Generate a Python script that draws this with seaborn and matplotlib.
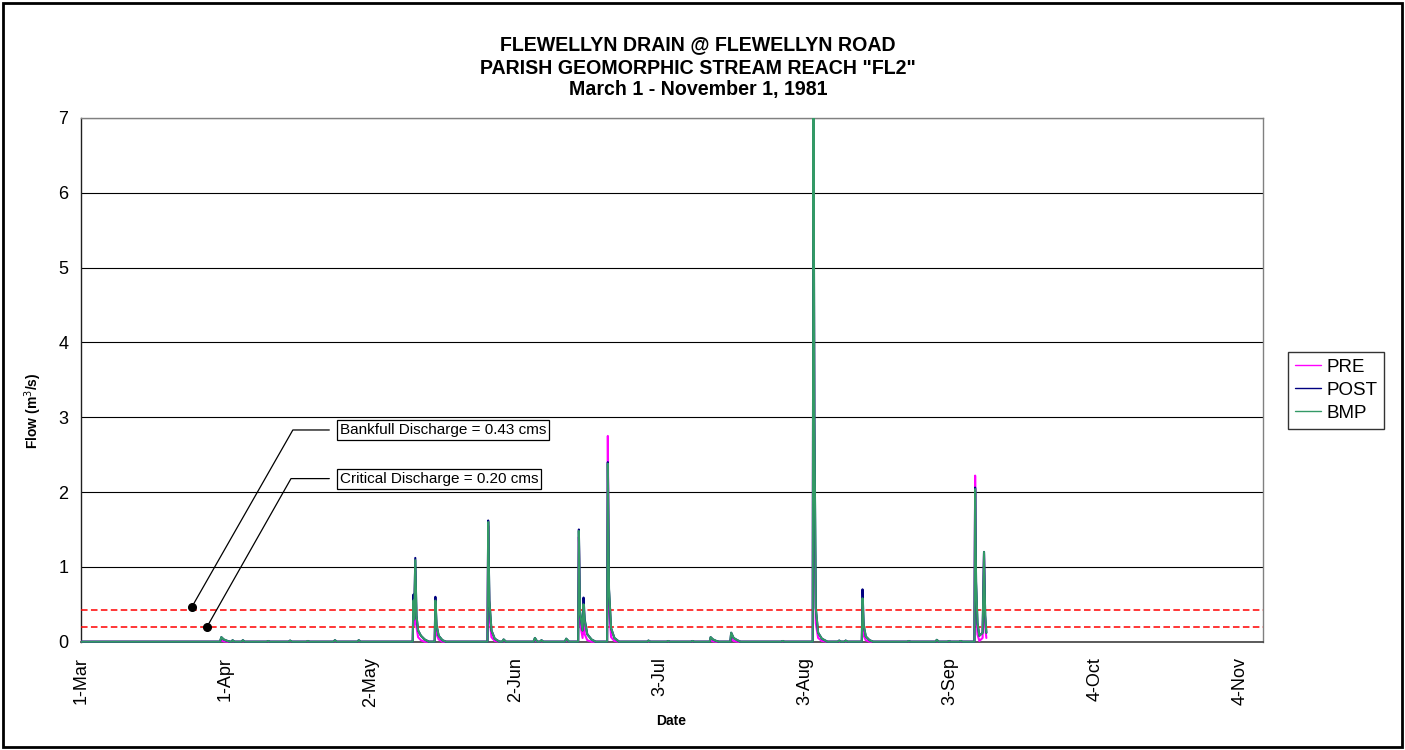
import numpy as np
import pandas as pd
import matplotlib
matplotlib.use("Agg")
import matplotlib.pyplot as plt
from matplotlib.patches import Rectangle
import seaborn as sns

# ---------------------------------------------------------------------------
# Simulated flow (m3/s) at breakpoints, days after 1 March 1981
# ---------------------------------------------------------------------------
day = [
    0.0, 29.8, 30.1, 30.6, 31.4, 32.0,
    32.3, 32.5, 32.9, 34.4, 34.7, 35.1, 39.8, 40.1, 40.5,
    44.5, 44.8, 45.2, 48.3, 48.6, 49.0, 54.1, 54.4, 54.8, 59.2, 59.5, 59.9,
    71.05, 71.2, 71.35, 71.6, 71.85, 72.2, 72.8, 73.6, 74.5,
    75.75, 75.9, 76.15, 76.6, 77.4, 78.2,
    87.05, 87.2, 87.45, 87.9, 88.6, 89.6,
    90.2, 90.5, 91.0, 96.9, 97.2, 97.7, 98.3, 98.6, 99.0, 103.6, 103.9, 104.5,
    106.45, 106.6, 106.85, 107.4, 107.6, 107.85, 108.4, 109.3, 110.2,
    112.65, 112.8, 113.05, 113.5, 114.2, 115.2,
    121.2, 121.5, 121.9, 125.4, 125.7, 126.1, 130.6, 130.9, 131.3,
    134.6, 134.8, 135.3, 136.0, 136.6, 139.0, 139.2, 139.7, 140.5, 141.2, 149.9, 150.2, 150.6,
    156.65, 156.8, 157.0, 157.3, 157.8, 158.6, 159.8,
    162.0, 162.3, 162.7, 163.4, 163.7, 164.1,
    167.15, 167.3, 167.55, 168.0, 168.8, 169.6,
    176.9, 177.2, 177.6, 182.9, 183.2, 183.6, 185.5, 185.8, 186.2, 188.0, 188.3, 188.7,
    191.25, 191.4, 191.6, 191.9, 192.3, 193.0, 193.3, 193.55, 193.8,
]

pre = [
    0, 0, 0.02, 0.005, 0, 0,
    0, 0.01, 0, 0, 0.01, 0, 0, 0.005, 0,
    0, 0.01, 0, 0, 0.005, 0, 0, 0.01, 0, 0, 0.01, 0,
    0, 0.45, 0.22, 0.95, 0.20, 0.06, 0.02, 0, 0,
    0, 0.45, 0.10, 0.03, 0, 0,
    0, 1.55, 0.35, 0.06, 0.01, 0,
    0, 0.01, 0, 0, 0.02, 0, 0, 0.01, 0, 0, 0.02, 0,
    0, 1.40, 0.25, 0.05, 0.40, 0.10, 0.02, 0, 0,
    0, 2.75, 0.45, 0.06, 0.01, 0,
    0, 0.005, 0, 0, 0.005, 0, 0, 0.005, 0,
    0, 0.02, 0.005, 0, 0, 0, 0.05, 0.01, 0, 0, 0, 0.005, 0,
    0, 7.60, 2.00, 0.25, 0.05, 0.01, 0,
    0, 0.005, 0, 0, 0.005, 0,
    0, 0.45, 0.08, 0.02, 0, 0,
    0, 0.005, 0, 0, 0.01, 0, 0, 0.005, 0, 0, 0.005, 0,
    0, 2.22, 0.55, 0.10, 0.01, 0.05, 1.18, 0.20, 0.05,
]

post = [
    0, 0, 0.06, 0.03, 0.01, 0,
    0, 0.02, 0, 0, 0.02, 0, 0, 0.01, 0,
    0, 0.015, 0, 0, 0.01, 0, 0, 0.02, 0, 0, 0.02, 0,
    0, 0.63, 0.30, 1.12, 0.35, 0.15, 0.08, 0.03, 0,
    0, 0.60, 0.22, 0.08, 0.02, 0,
    0, 1.62, 0.55, 0.15, 0.04, 0,
    0, 0.03, 0, 0, 0.05, 0, 0, 0.02, 0, 0, 0.04, 0,
    0, 1.50, 0.40, 0.15, 0.59, 0.30, 0.10, 0.03, 0,
    0, 2.40, 0.70, 0.18, 0.05, 0,
    0, 0.015, 0, 0, 0.01, 0, 0, 0.01, 0,
    0, 0.06, 0.03, 0.01, 0, 0, 0.12, 0.05, 0.02, 0, 0, 0.01, 0,
    0, 7.60, 3.00, 0.45, 0.12, 0.04, 0,
    0, 0.015, 0, 0, 0.015, 0,
    0, 0.70, 0.22, 0.07, 0.02, 0,
    0, 0.01, 0, 0, 0.025, 0, 0, 0.01, 0, 0, 0.01, 0,
    0, 2.06, 0.80, 0.25, 0.08, 0.12, 1.20, 0.35, 0.12,
]

bmp = [
    0, 0, 0.06, 0.03, 0.01, 0,
    0, 0.02, 0, 0, 0.02, 0, 0, 0.01, 0,
    0, 0.015, 0, 0, 0.01, 0, 0, 0.02, 0, 0, 0.02, 0,
    0, 0.55, 0.30, 1.09, 0.35, 0.15, 0.08, 0.03, 0,
    0, 0.55, 0.22, 0.08, 0.02, 0,
    0, 1.60, 0.55, 0.15, 0.04, 0,
    0, 0.03, 0, 0, 0.05, 0, 0, 0.02, 0, 0, 0.04, 0,
    0, 1.48, 0.40, 0.15, 0.50, 0.28, 0.10, 0.03, 0,
    0, 2.38, 0.70, 0.18, 0.05, 0,
    0, 0.015, 0, 0, 0.01, 0, 0, 0.01, 0,
    0, 0.06, 0.03, 0.01, 0, 0, 0.12, 0.05, 0.02, 0, 0, 0.01, 0,
    0, 7.60, 3.00, 0.45, 0.12, 0.04, 0,
    0, 0.015, 0, 0, 0.015, 0,
    0, 0.58, 0.22, 0.07, 0.02, 0,
    0, 0.01, 0, 0, 0.025, 0, 0, 0.01, 0, 0, 0.01, 0,
    0, 2.04, 0.80, 0.25, 0.08, 0.12, 1.20, 0.35, 0.12,
]

series_names = ["PRE", "POST", "BMP"]
series_colors = ["#FF00FF", "#000080", "#339966"]

bankfull = 0.43
critical = 0.20

tick_dates = ["1981-03-01", "1981-04-01", "1981-05-02", "1981-06-02", "1981-07-03",
              "1981-08-03", "1981-09-03", "1981-10-04", "1981-11-04"]
tick_labels = ["1-Mar", "1-Apr", "2-May", "2-Jun", "3-Jul", "3-Aug", "3-Sep", "4-Oct", "4-Nov"]

title_lines = ["FLEWELLYN DRAIN @ FLEWELLYN ROAD",
               'PARISH GEOMORPHIC STREAM REACH "FL2"',
               "March 1 - November 1, 1981"]

# ---------------------------------------------------------------------------
sns.set_style("white")
plt.rcParams["font.family"] = ["Liberation Sans", "DejaVu Sans"]
plt.rcParams["text.color"] = "black"
plt.rcParams["axes.labelcolor"] = "black"
plt.rcParams["xtick.color"] = "black"
plt.rcParams["ytick.color"] = "black"

start = pd.Timestamp("1981-03-01")
times = start + pd.to_timedelta(day, unit="D")
n = len(day)
df = pd.DataFrame({
    "time": list(times) * 3,
    "flow": pre + post + bmp,
    "series": ["PRE"] * n + ["POST"] * n + ["BMP"] * n,
})

W, H = 1405, 750
fig = plt.figure(figsize=(W / 100, H / 100), dpi=100)
ax_l, ax_r, ax_t, ax_b = 80.7, 1263, 118, 641.7
ax = fig.add_axes([ax_l / W, 1 - ax_b / H, (ax_r - ax_l) / W, (ax_b - ax_t) / H])

sns.lineplot(data=df, x="time", y="flow", hue="series", hue_order=series_names,
             palette=dict(zip(series_names, series_colors)), estimator=None,
             sort=False, linewidth=1.5, ax=ax, zorder=3)

# let the zero-flow baseline sit fully on top of the bottom axis line
clip_box = Rectangle((0, -0.02), 1, 1.02, transform=ax.transAxes)
for line in ax.get_lines():
    line.set_clip_path(clip_box)

# threshold discharges
for val in (bankfull, critical):
    ax.axhline(val, color="#FF0000", lw=1.1, ls=(0, (4.3, 2.2)), zorder=2)

# axes
ax.set_ylim(0, 7)
ax.set_yticks(range(0, 8))
ax.yaxis.grid(True, color="black", lw=0.8)
ax.xaxis.grid(False)
ax.set_axisbelow(True)
ax.set_xlim(start, start + pd.Timedelta(days=253))
ax.set_xticks(pd.to_datetime(tick_dates))
ax.set_xticklabels(tick_labels, rotation=90, ha="center", va="top")
ax.tick_params(axis="both", direction="out", length=6, width=1, color="#404040",
               labelsize=13, labelcolor="black")
ax.tick_params(axis="y", pad=3)
ax.tick_params(axis="x", pad=5)
for side in ("top", "right"):
    ax.spines[side].set_color("#808080")
    ax.spines[side].set_linewidth(1)
ax.spines["left"].set_color("#202020")
ax.spines["bottom"].set_color("#404040")
ax.spines["left"].set_linewidth(1)
ax.spines["bottom"].set_linewidth(1.2)
for sp in ax.spines.values():
    sp.set_zorder(1)

ax.set_ylabel("Flow (m$^3$/s)", fontsize=10, fontweight="bold")
ax.yaxis.set_label_coords((44 - ax_l) / (ax_r - ax_l), (ax_b - 411) / (ax_b - ax_t))
ax.set_xlabel("Date", fontsize=10, fontweight="bold")
ax.xaxis.set_label_coords((671 - ax_l) / (ax_r - ax_l), (ax_b - 714) / (ax_b - ax_t))

# callouts for the thresholds
callouts = [
    ("Bankfull Discharge = 0.43 cms", 23.75, 0.46, 45.4, 2.83),
    ("Critical Discharge = 0.20 cms", 26.95, 0.19, 45.0, 2.18),
]
for text, d0, v0, d1, v1 in callouts:
    t0 = start + pd.Timedelta(days=d0)
    t1 = start + pd.Timedelta(days=d1)
    t2 = start + pd.Timedelta(days=53.2)
    ax.plot([t0, t1, t2], [v0, v1, v1], color="black", lw=0.9, zorder=4)
    ax.plot([t0], [v0], "o", color="black", ms=5.5, zorder=5)
    ax.text(start + pd.Timedelta(days=55.4), v1, text, ha="left", va="center",
            fontsize=11, zorder=6,
            bbox=dict(boxstyle="square,pad=0.2", fc="white", ec="black", lw=0.9))

# legend
handles, labels = ax.get_legend_handles_labels()
leg = ax.legend(handles, labels, loc="upper left",
                bbox_to_anchor=(1288 / W, 1 - 352 / H), bbox_transform=fig.transFigure,
                frameon=True, fancybox=False, edgecolor="black", fontsize=13.5,
                handlelength=1.4, handletextpad=0.3, labelspacing=0.32,
                borderpad=0.35, borderaxespad=0)
leg.get_frame().set_linewidth(1)
for line in leg.get_lines():
    line.set_linewidth(1.0)

# title, one line at a time
for text, y_px in zip(title_lines, (45, 68, 90)):
    fig.text(0.497, 1 - y_px / H, text, ha="center", va="center",
             fontsize=14.1, fontweight="bold")

# outer frame
fig.patches.append(Rectangle((3 / W, 3 / H), (W - 6) / W, (H - 6) / H,
                             transform=fig.transFigure, fill=False,
                             ec="black", lw=2))

fig.savefig("out.png", dpi=100)
